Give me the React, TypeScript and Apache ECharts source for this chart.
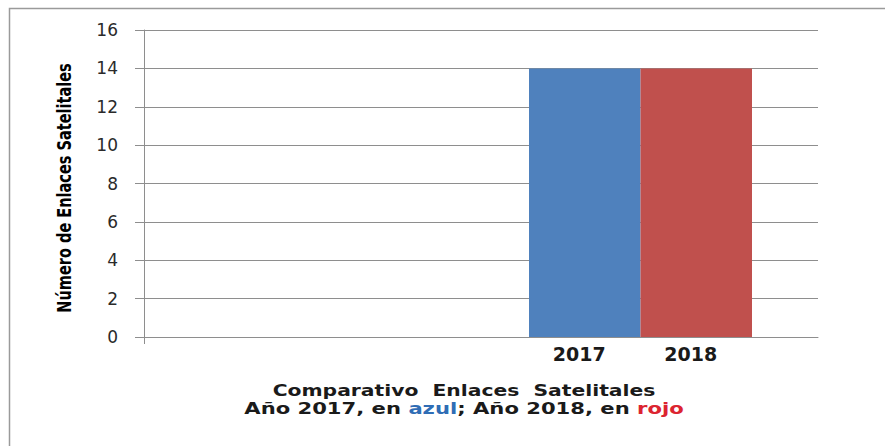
import React, { useEffect, useRef } from "react";
import * as echarts from "echarts";

const categories = ["2017", "2018"];
const values = [14, 14];
const barColors = ["#4F81BD", "#C0504D"];
const yTitle = "Número de Enlaces Satelitales";
const titleLine1 = "Comparativo  Enlaces  Satelitales";

export default function App() {
  const ref = useRef<HTMLDivElement>(null);
  useEffect(() => {
    if (!ref.current) return;
    const chart = echarts.init(ref.current, null, { renderer: "svg" });
    const gridColor = "#8e8e8e";
    const option: any = {
      animation: false,
      backgroundColor: "#ffffff",
      grid: [
        { left: 144, right: 67, top: 30, bottom: 109 },
        { left: 529, width: 223, top: 30, bottom: 109 },
      ],
      xAxis: [
        {
          type: "value",
          gridIndex: 0,
          min: 0,
          max: 1,
          axisLine: { show: true, lineStyle: { color: gridColor, width: 1 } },
          axisTick: { show: true, customValues: [0], length: 7, lineStyle: { color: gridColor } },
          axisLabel: { show: false },
          splitLine: { show: false },
        },
        {
          type: "category",
          gridIndex: 1,
          data: categories,
          axisLine: { show: false },
          axisTick: { show: false },
          axisLabel: {
            color: "#1a1a1a",
            fontFamily: "DejaVu Sans",
            fontWeight: "bold",
            fontSize: 19,
            margin: 7,
            padding: [0, 11, 0, 0],
          },
        },
      ],
      yAxis: [
        {
          type: "value",
          gridIndex: 0,
          min: 0,
          max: 16,
          interval: 2,
          axisLine: { show: true, lineStyle: { color: gridColor, width: 1 } },
          axisTick: { show: true, length: 9, lineStyle: { color: gridColor } },
          axisLabel: {
            color: "#2a2a2a",
            fontFamily: "DejaVu Sans",
            fontSize: 17,
            margin: 26,
          },
          splitLine: { show: true, lineStyle: { color: gridColor, width: 1 } },
        },
        {
          type: "value",
          gridIndex: 1,
          min: 0,
          max: 16,
          interval: 2,
          show: false,
        },
      ],
      series: [
        {
          type: "bar",
          xAxisIndex: 1,
          yAxisIndex: 1,
          barCategoryGap: 0,
          data: values.map((v, i) => ({ value: v, itemStyle: { color: barColors[i] } })),
        },
      ],
      graphic: [
        {
          type: "rect",
          shape: { x: 9.5, y: 8.5, width: 900, height: 500 },
          style: { fill: "none", stroke: "#9a9a9a", lineWidth: 1.5 },
          silent: true,
        },
        {
          type: "text",
          x: 65,
          y: 188,
          rotation: Math.PI / 2,
          scaleX: 0.85,
          style: {
            text: yTitle,
            fill: "#000000",
            font: 'bold 19px "DejaVu Sans Condensed", "DejaVu Sans", sans-serif',
            align: "center",
            verticalAlign: "middle",
          },
        },
        {
          type: "text",
          x: 464,
          y: 390,
          scaleX: 1.27,
          style: {
            text: titleLine1,
            fill: "#1a1a1a",
            font: 'bold 16px "DejaVu Sans"',
            align: "center",
            verticalAlign: "middle",
          },
        },
        {
          type: "text",
          x: 464,
          y: 408,
          scaleX: 1.32,
          style: {
            text: "{d|Año 2017, en }{b|azul}{d|; Año 2018, en }{r|rojo}",
            align: "center",
            verticalAlign: "middle",
            rich: {
              d: { fill: "#1a1a1a", font: 'bold 16px "DejaVu Sans"' },
              b: { fill: "#2f6db5", font: 'bold 16px "DejaVu Sans"' },
              r: { fill: "#dc2430", font: 'bold 16px "DejaVu Sans"' },
            },
          },
        },
      ],
    };
    chart.setOption(option);
    return () => chart.dispose();
  }, []);
  return <div ref={ref} style={{ width: 885, height: 446, position: "absolute", left: 0, top: 0 }} />;
}
